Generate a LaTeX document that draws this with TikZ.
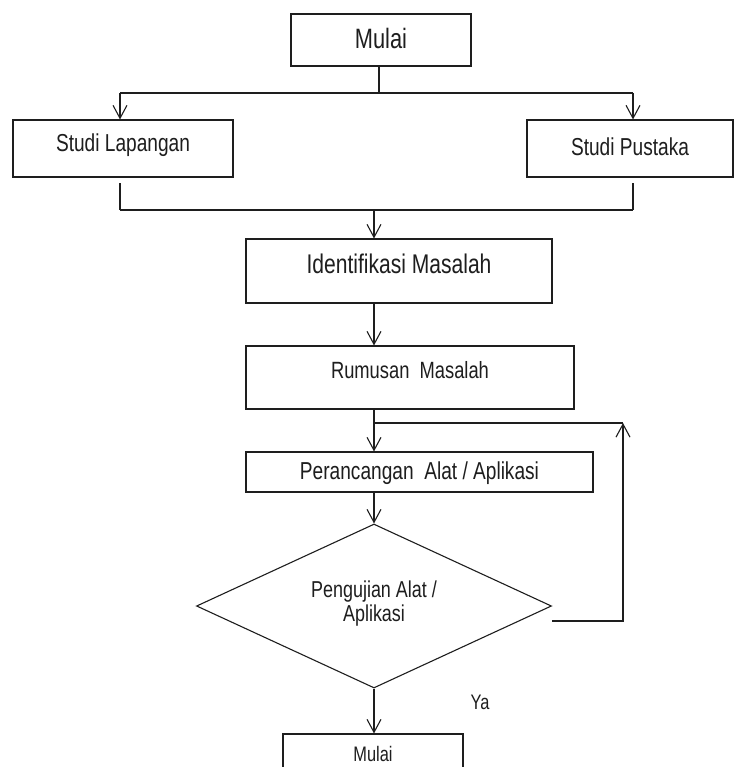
\documentclass[tikz,border=0pt]{standalone}
\usepackage{fontspec}
\setmainfont[FakeStretch=0.78]{Liberation Sans}
\usetikzlibrary{arrows.meta,shapes.geometric}
\definecolor{ink}{RGB}{30,30,30}
\newcommand{\fsA}{\fontsize{28}{32}\selectfont}
\newcommand{\fsB}{\fontsize{24.5}{28}\selectfont}
\newcommand{\fsC}{\fontsize{27}{30}\selectfont}
\newcommand{\fsD}{\fontsize{23.5}{27}\selectfont}
\newcommand{\fsE}{\fontsize{23}{23}\selectfont}
\newcommand{\fsF}{\fontsize{21}{24}\selectfont}
\newcommand{\upby}[2]{\raisebox{#1}[\height][\depth]{#2}}
\begin{document}
\begin{tikzpicture}[x=1pt,y=-1pt,
  box/.style={draw=ink, line width=1.1pt, rectangle, inner sep=0pt, text=ink},
  dbox/.style={draw=ink, line width=1.1pt, diamond, inner sep=0pt},
  ln/.style={draw=ink, line width=1.1pt},
  arr/.style={-{Straight Barb[length=13pt,width=14pt]}},
  lbl/.style={text=ink, inner sep=0pt}]
\clip (0,0) rectangle (734,767);
\fill[white] (0,0) rectangle (734,767);
% nodes
\node[box, minimum width=180pt, minimum height=52pt, font=\fsA] (m1) at (381,40) {\upby{2pt}{Mulai}};
\node[box, minimum width=220pt, minimum height=57pt, font=\fsB] (sl) at (123,148.5) {\upby{3pt}{Studi Lapangan}};
\node[box, minimum width=206pt, minimum height=57pt, font=\fsB] (sp) at (630,148.5) {\upby{2pt}{Studi Pustaka}};
\node[box, minimum width=306pt, minimum height=64pt, font=\fsC] (id) at (399,271) {\upby{7pt}{Identifikasi Masalah}};
\node[box, minimum width=328pt, minimum height=63pt, font=\fsD] (rm) at (410,377.5) {\upby{7pt}{Rumusan\ \ Masalah}};
\node[box, minimum width=347pt, minimum height=40pt, font=\fsB] (pr) at (419.5,472) {\upby{-1pt}{Perancangan\ \ Alat / Aplikasi}};
\node[dbox, minimum width=355pt, minimum height=164pt] (dia) at (374,606) {};
\node[lbl, font=\fsE, align=center] (diat) at (374,604) {Pengujian Alat /\\[1pt]Aplikasi};
\node[box, minimum width=180pt, minimum height=46pt, font=\fsF] (m2) at (373,757) {\upby{3pt}{Mulai}};
\node[lbl, font=\fsF] (ya) at (480,702) {Ya};
% coordinates
\coordinate (j1) at (379,93);
\coordinate (jl) at (120,93);
\coordinate (jr) at (633,93);
\coordinate (ml) at (120,210);
\coordinate (mr) at (633,210);
\coordinate (mc) at (374,210);
\coordinate (fb) at (374,423);
\coordinate (fs) at (552,621);
\coordinate (fc1) at (623,621);
\coordinate (fc2) at (623,423);
% connectors
\draw[ln] (j1 |- m1.south) -- (j1);
\draw[ln] (jl) -- (jr);
\draw[ln,arr] (jl) -- (jl |- sl.north);
\draw[ln,arr] (jr) -- (jr |- sp.north);
\draw[ln, shorten >=5pt] (ml) -- (ml |- sl.south);
\draw[ln] (ml) -- (mr);
\draw[ln, shorten >=5pt] (mr) -- (mr |- sp.south);
\draw[ln,arr] (mc) -- (mc |- id.north);
\draw[ln,arr] (mc |- id.south) -- (mc |- rm.north);
\draw[ln,arr] (mc |- rm.south) -- (mc |- pr.north);
\draw[ln,arr] (mc |- pr.south) -- (dia.north);
\draw[ln,arr] (dia.south) -- (dia.south |- m2.north);
\draw[ln,arr] (fs) -- (fc1) -- (fc2);
\draw[ln] (fc2) -- (fb);
\end{tikzpicture}
\end{document}
